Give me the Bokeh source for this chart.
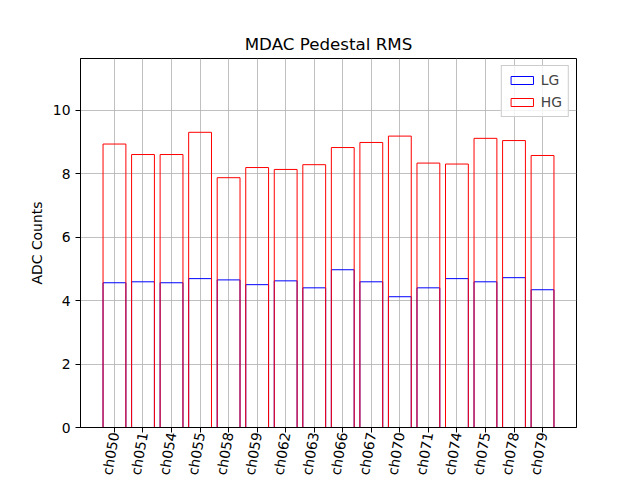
import math
from bokeh.plotting import figure
from bokeh.models import Range1d, FixedTicker, ColumnDataSource, Legend, LegendItem
from bokeh.embed import file_html
from bokeh.resources import INLINE

channels = ["ch050", "ch051", "ch054", "ch055", "ch058", "ch059", "ch062", "ch063",
            "ch066", "ch067", "ch070", "ch071", "ch074", "ch075", "ch078", "ch079"]
lg_rms = [4.56, 4.59, 4.56, 4.69, 4.65, 4.50, 4.62, 4.40,
          4.97, 4.59, 4.12, 4.40, 4.69, 4.59, 4.72, 4.34]
hg_rms = [8.93, 8.60, 8.60, 9.30, 7.87, 8.19, 8.13, 8.28,
          8.82, 8.98, 9.18, 8.33, 8.30, 9.11, 9.04, 8.57]
y_ticks = [0, 2, 4, 6, 8, 10]

idx = list(range(len(channels)))
src = ColumnDataSource(dict(x=idx, lg=lg_rms, hg=hg_rms))

n = len(channels)
xpad = (n - 1 + 0.8) * 0.05
ymax = max(hg_rms) * 1.25

p = figure(width=640, height=480, output_backend="svg", toolbar_location=None,
           x_range=Range1d(-0.4 - xpad, n - 1 + 0.4 + xpad), y_range=Range1d(0, ymax),
           min_border_left=80, min_border_top=58, min_border_right=64, min_border_bottom=53,
           title="MDAC Pedestal RMS")
p.background_fill_color = "white"
p.border_fill_color = "white"
p.outline_line_color = "black"
p.outline_line_width = 1

p.title.align = "center"
p.title.text_font = "DejaVu Sans"
p.title.text_font_size = "16.7px"
p.title.text_font_style = "normal"
p.title.text_color = "black"

r_lg = p.vbar(x="x", top="lg", width=0.8, bottom=0, source=src,
              fill_alpha=0, line_color="blue", line_width=1)
r_hg = p.vbar(x="x", top="hg", width=0.8, bottom=0, source=src,
              fill_alpha=0, line_color="red", line_width=1)

p.xaxis.ticker = FixedTicker(ticks=idx)
p.xaxis.major_label_overrides = {i: c for i, c in zip(idx, channels)}
p.xaxis.major_label_orientation = 80 * math.pi / 180
p.xaxis.major_label_standoff = 0
p.yaxis.ticker = FixedTicker(ticks=y_ticks)
p.yaxis.axis_label = "ADC Counts"

for ax in [p.xaxis[0], p.yaxis[0]]:
    ax.axis_line_color = "black"
    ax.major_tick_line_color = "black"
    ax.major_tick_in = 0
    ax.major_tick_out = 5
    ax.minor_tick_line_color = None
    ax.major_label_text_font = "DejaVu Sans"
    ax.major_label_text_font_size = "13.9px"
    ax.major_label_text_color = "black"
    ax.axis_label_text_font = "DejaVu Sans"
    ax.axis_label_text_font_size = "13.9px"
    ax.axis_label_text_font_style = "normal"
    ax.axis_label_text_color = "black"

p.grid.grid_line_color = "#b0b0b0"
p.grid.grid_line_width = 0.8
p.grid.grid_line_alpha = 1

legend = Legend(items=[LegendItem(label="LG", renderers=[r_lg]),
                       LegendItem(label="HG", renderers=[r_hg])],
                location="top_right")
legend.label_text_font = "DejaVu Sans"
legend.label_text_font_size = "13.9px"
legend.border_line_color = "#cccccc"
legend.border_line_alpha = 1
legend.background_fill_alpha = 0.8
legend.glyph_width = 28
legend.glyph_height = 10
legend.spacing = 6
legend.padding = 6
legend.margin = 7
p.add_layout(legend, "center")

open("out.html", "w").write(file_html(p, INLINE))
